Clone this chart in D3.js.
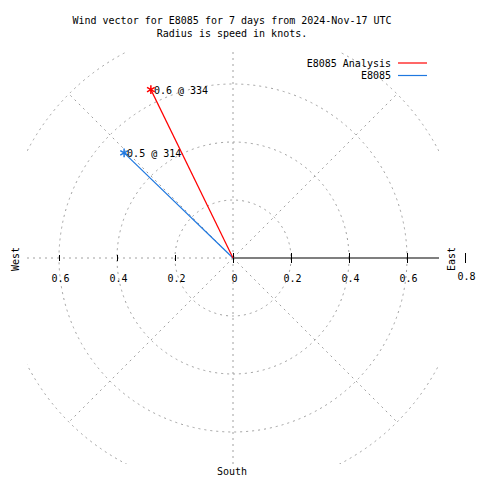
<!DOCTYPE html>
<html>
<head>
<meta charset="utf-8">
<script src="https://cdn.jsdelivr.net/npm/d3@7"></script>
<style>
  html, body { margin: 0; padding: 0; background: #fff; }
  svg { display: block; }
  text { font-family: "DejaVu Sans Mono", "Liberation Mono", monospace; font-size: 10px; fill: #000; }
</style>
</head>
<body>
<svg id="chart" width="480" height="480"></svg>
<script>
// ---- data ----
const titleLines = ["Wind vector for E8085 for 7 days from 2024-Nov-17 UTC", "Radius is speed in knots."];
const seriesNames = ["E8085 Analysis", "E8085"];
const seriesColors = ["#ff0000", "#1f78e0"];
const seriesSpeed = [0.646, 0.522];      // knots
const seriesDirection = [334, 314];      // degrees, clockwise from north
const ringValues = [0.2, 0.4, 0.6, 0.8];
const spokeAngles = [0, 45, 135, 180, 225, 270, 315];
const eastTicks = [0, 0.2, 0.4, 0.6, 0.8];
const westTicks = [0.2, 0.4, 0.6];

// ---- layout ----
const svg = d3.select("#chart");
const cx = 233, cy = 258;
const r = d3.scaleLinear().domain([0, 1]).range([0, 290]);
const half = 206; // half-size of plotting square

svg.append("defs").append("clipPath").attr("id", "plotclip")
  .append("rect").attr("x", cx - half).attr("y", cy - half)
  .attr("width", 2 * half).attr("height", 2 * half);

const grid = svg.append("g").attr("clip-path", "url(#plotclip)");

// rings
grid.selectAll("circle.ring").data(ringValues).join("circle")
  .attr("class", "ring")
  .attr("cx", cx).attr("cy", cy).attr("r", d => r(d))
  .attr("fill", "none").attr("stroke", "#a0a0a0").attr("stroke-width", 1)
  .attr("stroke-dasharray", "2,4");

// spokes
const rMax = ringValues[ringValues.length - 1];
grid.selectAll("line.spoke").data(spokeAngles).join("line")
  .attr("class", "spoke")
  .attr("x1", cx).attr("y1", cy)
  .attr("x2", d => cx + r(rMax) * Math.sin(d * Math.PI / 180))
  .attr("y2", d => cy - r(rMax) * Math.cos(d * Math.PI / 180))
  .attr("stroke", "#a0a0a0").attr("stroke-width", 1)
  .attr("stroke-dasharray", "2,4");

// east axis line (solid black), clipped
grid.append("line")
  .attr("x1", cx).attr("y1", cy).attr("x2", cx + r(rMax)).attr("y2", cy)
  .attr("stroke", "#000").attr("stroke-width", 1.2);

// east axis ticks
const xe = d3.scaleLinear().domain([0, 1]).range([cx, cx + r(1)]);
const fmt = d => d === 0 ? "0" : d3.format(".1f")(d);
const eAxis = svg.append("g").attr("transform", `translate(0,${cy})`)
  .call(d3.axisBottom(xe).tickValues(eastTicks).tickFormat(fmt).tickSize(5).tickPadding(12));
eAxis.select(".domain").remove();
eAxis.selectAll(".tick line").attr("y1", -5).attr("y2", 5).attr("stroke", "#000");
eAxis.selectAll(".tick text").attr("dx", 1)
  .style("font-family", '"DejaVu Sans Mono", monospace').style("font-size", "10px");
eAxis.selectAll(".tick").filter(d => d === 0.8).select("text").attr("dy", "0.45em");

// west axis ticks
const xw = d3.scaleLinear().domain([0, 1]).range([cx, cx - r(1)]);
const wAxis = svg.append("g").attr("transform", `translate(0,${cy})`)
  .call(d3.axisBottom(xw).tickValues(westTicks).tickFormat(fmt).tickSize(3).tickPadding(14));
wAxis.select(".domain").remove();
wAxis.selectAll(".tick line").attr("y1", -3).attr("y2", 3).attr("stroke", "#000");
wAxis.selectAll(".tick text").attr("dx", 1)
  .style("font-family", '"DejaVu Sans Mono", monospace').style("font-size", "10px");

// vectors
const pts = seriesNames.map((n, i) => {
  const a = seriesDirection[i] * Math.PI / 180;
  return {
    name: n, color: seriesColors[i], speed: seriesSpeed[i], dir: seriesDirection[i],
    x: cx + r(seriesSpeed[i]) * Math.sin(a),
    y: cy - r(seriesSpeed[i]) * Math.cos(a)
  };
});
const order = [1, 0];
const vec = svg.append("g");
order.forEach(i => {
  const p = pts[i];
  vec.append("line")
    .attr("x1", cx).attr("y1", cy).attr("x2", p.x).attr("y2", p.y)
    .attr("stroke", p.color).attr("stroke-width", 1.2);
  vec.append("path")
    .attr("d", d3.symbol().type(d3.symbolAsterisk).size(55)())
    .attr("transform", `translate(${p.x},${p.y})`)
    .attr("fill", "none").attr("stroke", p.color).attr("stroke-width", 1.5);
  vec.append("text")
    .attr("x", p.x + 3).attr("y", p.y + 4)
    .text(`${d3.format(".1f")(p.speed)} @ ${Math.round(p.dir)}`);
});

// title
svg.selectAll("text.title").data(titleLines).join("text")
  .attr("class", "title")
  .attr("x", 232).attr("y", (d, i) => 24 + i * 13)
  .attr("text-anchor", "middle")
  .text(d => d);

// legend
const leg = svg.append("g");
seriesNames.forEach((n, i) => {
  const y = 63 + i * 12.5;
  leg.append("text").attr("x", 391).attr("y", y + 3.5).attr("text-anchor", "end").text(n);
  leg.append("line").attr("x1", 398).attr("x2", 427).attr("y1", y).attr("y2", y)
    .attr("stroke", seriesColors[i]).attr("stroke-width", 1.2);
});

// compass labels
svg.append("text").attr("transform", "translate(19,259) rotate(-90)")
  .attr("text-anchor", "middle").text("West");
svg.append("text").attr("transform", "translate(455,259) rotate(-90)")
  .attr("text-anchor", "middle").text("East");
svg.append("text").attr("x", 232).attr("y", 475)
  .attr("text-anchor", "middle").text("South");
</script>
</body>
</html>
